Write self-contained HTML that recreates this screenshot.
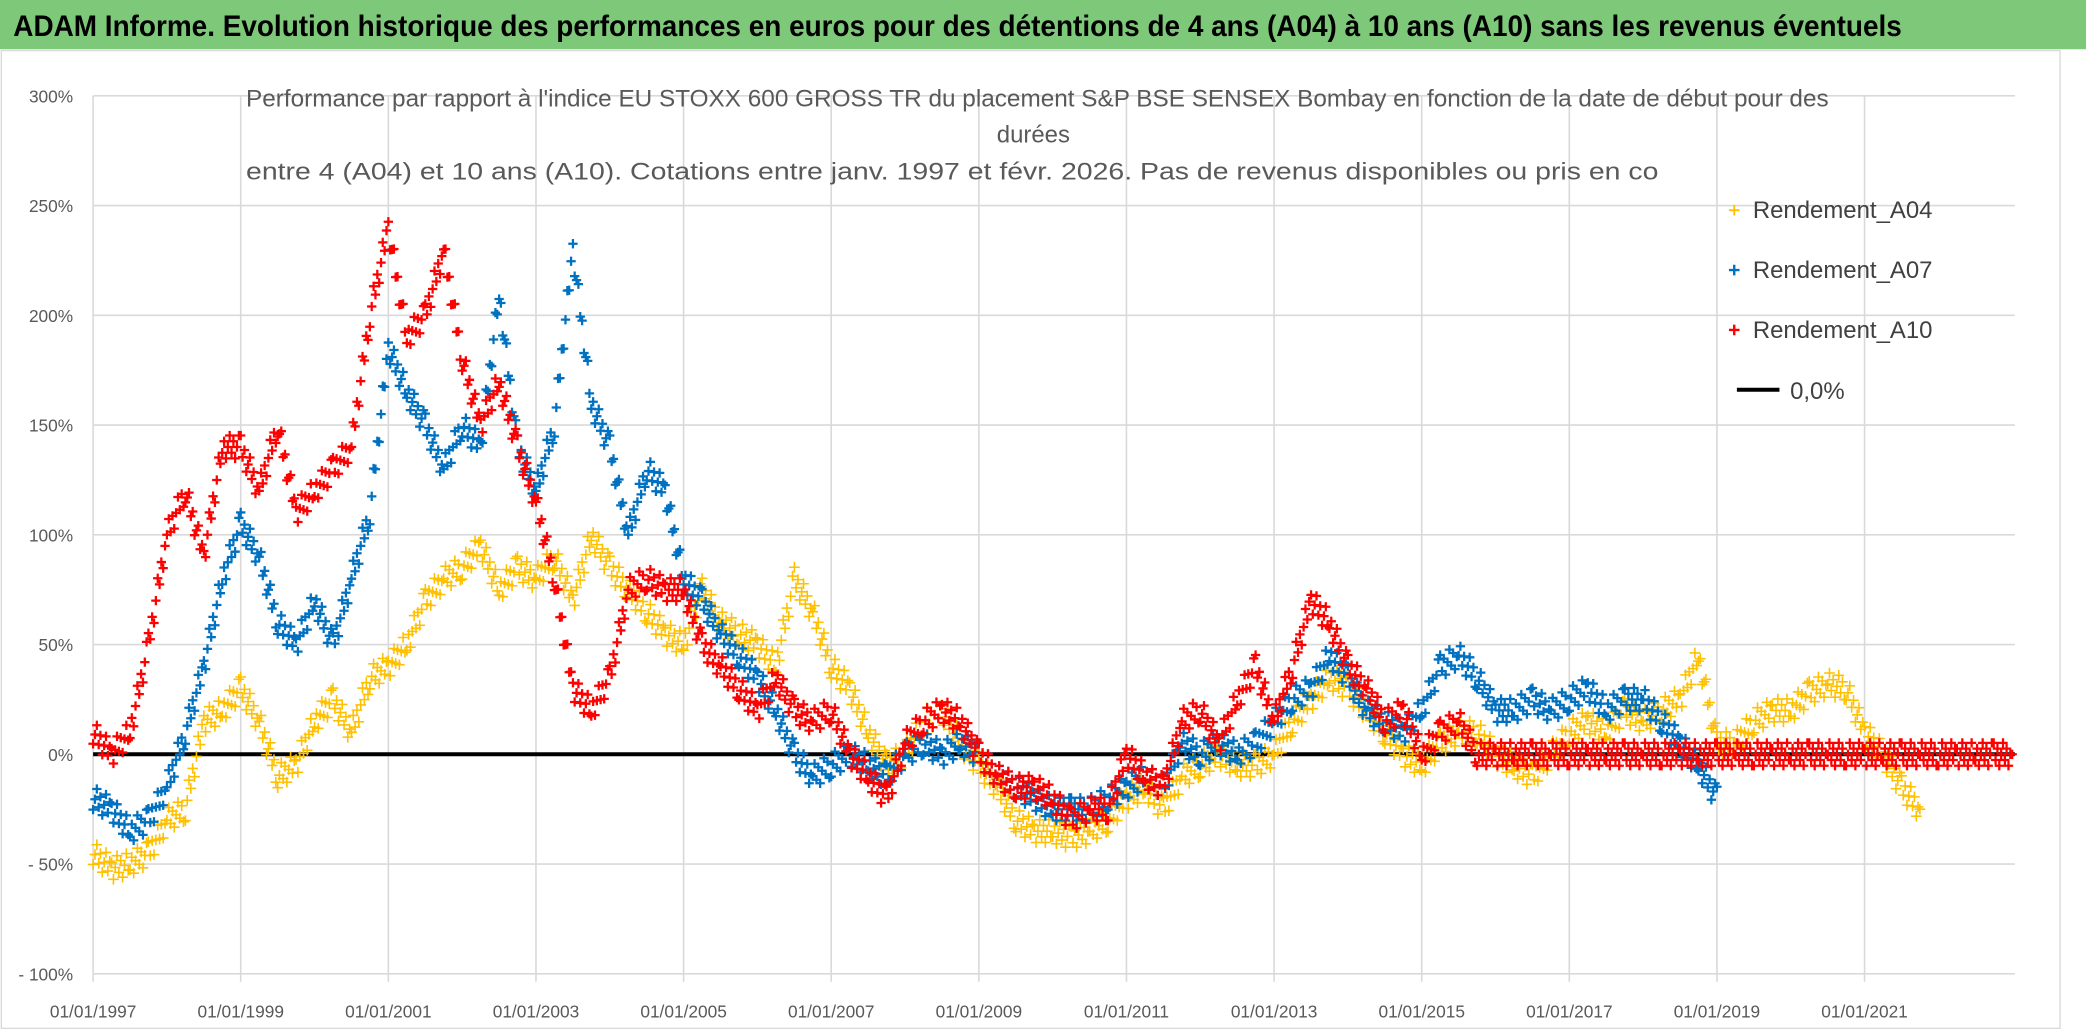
<!DOCTYPE html>
<html><head><meta charset="utf-8">
<style>
html,body{margin:0;padding:0;background:#fff;}
svg{display:block;font-family:"Liberation Sans",Calibri,sans-serif;}
</style></head>
<body>
<svg id="chart" width="2086" height="1031" viewBox="0 0 1568.5 775" preserveAspectRatio="none" xmlns="http://www.w3.org/2000/svg">
<rect x="0" y="0" width="1568.5" height="775" fill="#fff"/>
<rect x="0" y="0" width="1568.5" height="37" fill="#7ec87a"/>
<text x="10" y="27" font-size="22" font-weight="bold" fill="#000" textLength="1420" lengthAdjust="spacingAndGlyphs">ADAM Informe. Evolution historique des performances en euros pour des détentions de 4 ans (A04) à 10 ans (A10) sans les revenus éventuels</text>
<rect x="1" y="38" width="1548" height="735" fill="none" stroke="#d9d9d9" stroke-width="1"/>
<g id="grid"></g>
<g id="ylabels"></g>
<g id="xlabels"></g>
<g fill="#595959" font-size="18" text-anchor="middle">
<text x="780" y="80" textLength="1190" lengthAdjust="spacingAndGlyphs">Performance par rapport à l'indice EU STOXX 600 GROSS TR  du placement S&amp;P BSE SENSEX Bombay en fonction de la date de début pour des</text>
<text x="777" y="107">durées</text>
<text x="716" y="135" textLength="1062" lengthAdjust="spacingAndGlyphs">entre 4 (A04) et 10 ans (A10). Cotations entre janv. 1997 et févr. 2026. Pas de revenus disponibles ou pris en co</text>
</g>
<line x1="70" y1="567" x2="1515" y2="567" stroke="#000" stroke-width="3"/>
<g id="series"></g>
<g font-size="18" fill="#404040">
<g><path d="M1300 158h8M1304 154v8" stroke="#ffc000" stroke-width="1.4"/><text x="1318" y="164">Rendement_A04</text></g>
<g><path d="M1300 203h8M1304 199v8" stroke="#0070c0" stroke-width="1.8"/><text x="1318" y="209">Rendement_A07</text></g>
<g><path d="M1300 248h8M1304 244v8" stroke="#ff0000" stroke-width="1.8"/><text x="1318" y="254">Rendement_A10</text></g>
<g><line x1="1306" y1="293" x2="1338" y2="293" stroke="#000" stroke-width="3"/><text x="1346" y="300">0,0%</text></g>
</g>
</svg>
<script>
const yTicks = [300,250,200,150,100,50,0,-50,-100];
const yTickLabels = ["300%","250%","200%","150%","100%","50%","0%","- 50%","- 100%"];
const xTicks = [1997,1999,2001,2003,2005,2007,2009,2011,2013,2015,2017,2019,2021];
const xTickLabels = ["01/01/1997","01/01/1999","01/01/2001","01/01/2003","01/01/2005","01/01/2007","01/01/2009","01/01/2011","01/01/2013","01/01/2015","01/01/2017","01/01/2019","01/01/2021"];
const a04Start = 1997, a07Start = 1997, a10Start = 1997;
const a04 = [-45,-52,-50,-45,-30,-25,15,20,30,15,-10,-5,15,25,10,35,40,50,70,80,85,95,75,85,80,90,70,100,85,75,65,55,50,75,60,55,50,40,80,65,40,30,10,-5,0,15,20,5,-5,-15,-30,-35,-35,-38,-35,-30,-20,-15,-25,-10,-5,0,-5,-5,0,15,25,35,30,20,10,0,-5,5,10,10,0,-5,-10,0,10,15,10,20,15,20,25,45,5,5,15,20,20,28,32,30,10,0,-15,-25];
const a07 = [-20,-25,-35,-30,-15,10,40,80,105,90,60,50,70,50,80,110,185,165,150,130,150,140,210,140,120,150,230,160,140,100,130,120,80,70,55,45,35,20,0,-10,-5,0,-5,-10,0,5,0,5,0,-10,-15,-20,-25,-25,-25,-20,-15,-10,-15,5,0,5,0,5,15,25,30,45,35,20,15,10,20,40,45,35,20,20,25,20,25,30,20,25,25,15,5,-5,-20];
const a10 = [10,0,10,50,100,120,90,140,140,120,150,110,120,130,140,200,240,190,200,230,180,150,170,140,115,80,30,20,35,75,80,75,75,50,40,30,20,35,20,15,20,0,-10,-20,5,15,20,15,0,-10,-15,-15,-20,-30,-25,-25,0,-10,-15,15,20,5,25,40,15,40,70,60,40,30,15,20,0,10,15,0,0,0,0,0,0,0,0,0,0,0,0,0,0,0,0,0,0,0,0,0,0,0,0,0,0,0,0,0,0];
const NS="http://www.w3.org/2000/svg";
function xs(t){return 70+(t-1997)*55.5;}
function ys(v){return 567-v*1.65;}
const grid=document.getElementById('grid');
yTicks.forEach((v,i)=>{
 const l=document.createElementNS(NS,'line');
 l.setAttribute('x1',70);l.setAttribute('x2',1515);l.setAttribute('y1',ys(v));l.setAttribute('y2',ys(v));
 l.setAttribute('stroke','#d9d9d9');l.setAttribute('stroke-width','1.2');
 
 
 grid.appendChild(l);
 const t=document.createElementNS(NS,'text');
 t.setAttribute('x',55);t.setAttribute('y',ys(v)+5);t.setAttribute('text-anchor','end');
 t.setAttribute('font-size','13');t.setAttribute('fill','#595959');t.textContent=yTickLabels[i];
 
 
 document.getElementById('ylabels').appendChild(t);
});
xTicks.forEach((yr,i)=>{
 const l=document.createElementNS(NS,'line');
 l.setAttribute('x1',xs(yr));l.setAttribute('x2',xs(yr));l.setAttribute('y1',ys(300));l.setAttribute('y2',ys(-100)+6);
 l.setAttribute('stroke','#d9d9d9');l.setAttribute('stroke-width','1.2');
 
 
 grid.appendChild(l);
 const t=document.createElementNS(NS,'text');
 t.setAttribute('x',xs(yr));t.setAttribute('y',765);t.setAttribute('text-anchor','middle');
 t.setAttribute('font-size','13');t.setAttribute('fill','#595959');t.textContent=xTickLabels[i];
 
 
 document.getElementById('xlabels').appendChild(t);
});
const layer=document.getElementById('series');
function drawSeries(vals,start,color,sw,name,sz){
 const g=document.createElementNS(NS,'g');
 
 
 let d='';
 const n=vals.length;
 for(let i=0;i<n;i++){
  const v0=vals[i], v1=(i+1<n)?vals[i+1]:vals[i];
  const t0=start+i*0.25;
  const k=(i+1<n)?10:1;
  for(let j=0;j<k;j++){
   const f=j/k;
   const x=xs(t0+f*0.25);
   const wob=((j*7+i*3)%5-2)*2.6;
   const y=ys(v0+(v1-v0)*f+wob);
   d+='M'+(x-sz).toFixed(1)+' '+y.toFixed(1)+'h'+(2*sz)+'M'+x.toFixed(1)+' '+(y-sz).toFixed(1)+'v'+(2*sz);
  }
 }
 const p=document.createElementNS(NS,'path');
 p.setAttribute('d',d);p.setAttribute('stroke',color);p.setAttribute('stroke-width',sw);p.setAttribute('fill','none');
 
 
 g.appendChild(p);layer.appendChild(g);
}
drawSeries(a04,a04Start,'#ffc000',1.2,'series-a04',4);
drawSeries(a07,a07Start,'#0070c0',1.7,'series-a07',3.5);
drawSeries(a10,a10Start,'#ff0000',1.7,'series-a10',3.5);
</script>
</body></html>
